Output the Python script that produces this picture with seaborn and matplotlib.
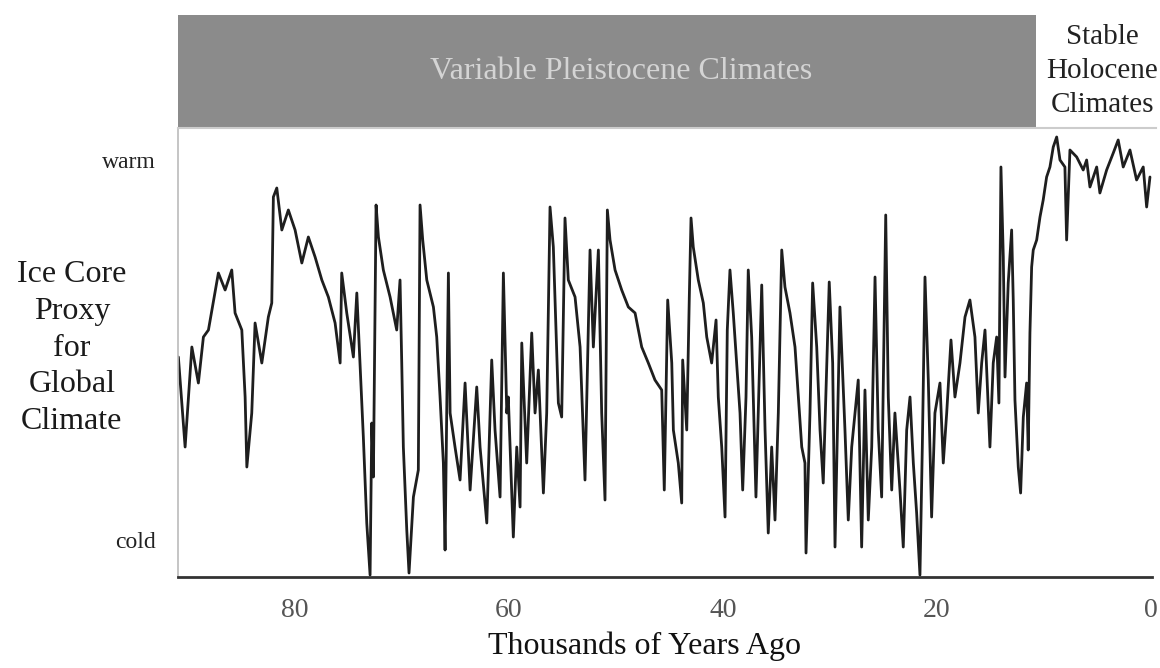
import matplotlib
matplotlib.use("Agg")
import matplotlib.pyplot as plt
import seaborn as sns
import pandas as pd

# ==========================================
# Data
# ==========================================

# thousands of years ago
kyr_80_75 = [90.91, 90.28, 89.65, 89.04, 88.57, 88.10, 87.17, 86.54, 85.92, 85.61,
             84.98, 84.67, 84.51, 84.05, 83.74, 83.11, 82.50, 82.18, 82.03, 81.71,
             81.24, 80.63, 80.00, 79.37, 78.76, 78.13, 77.50, 76.89, 76.26, 75.79, 75.64]
proxy_80_75 = [219, 129, 229, 193, 239, 246, 303, 286, 306, 263,
               246, 179, 109, 163, 253, 213, 259, 273, 379, 388,
               346, 366, 346, 313, 339, 319, 296, 279, 253, 213, 303]

kyr_75_60 = [75.17, 74.55, 74.23, 73.93, 73.62, 73.30, 72.99, 72.83, 72.68, 72.43,
             72.21, 71.75, 71.12, 70.50, 70.19, 70.03, 69.88, 69.56, 69.35, 68.94,
             68.48, 68.32, 68.07, 67.69, 67.07, 66.76, 66.45, 66.14, 65.98, 65.67,
             65.51, 65.05, 64.58, 64.11, 63.64, 63.02, 62.71, 62.08, 61.62, 61.31,
             60.84, 60.53, 60.21]
proxy_75_60 = [263, 219, 283, 213, 139, 53, 1, 153, 99, 371,
               339, 306, 279, 246, 296, 213, 129, 46, 3, 79,
               106, 371, 336, 296, 269, 239, 179, 113, 26, 303,
               163, 129, 96, 193, 86, 189, 129, 53, 216, 146,
               79, 303, 163]

kyr_60_45 = [60.07, 59.60, 59.28, 58.97, 58.81, 58.35, 57.88, 57.57, 57.26, 56.79,
             56.48, 56.17, 55.86, 55.39, 55.08, 54.77, 54.46, 53.83, 53.36, 52.90,
             52.43, 52.12, 51.65, 51.34, 51.03, 50.81, 50.56, 50.09, 49.47, 48.85,
             48.22, 47.60, 46.98, 46.36, 45.73, 45.49, 45.17, 44.79]
proxy_60_45 = [179, 39, 129, 69, 233, 113, 243, 163, 206, 83,
               163, 369, 329, 173, 159, 358, 296, 279, 229, 96,
               326, 229, 326, 163, 76, 366, 336, 306, 286, 269,
               263, 229, 213, 196, 186, 86, 276, 213]

kyr_45_29 = [44.64, 44.18, 43.86, 43.77, 43.39, 43.15, 42.99, 42.78, 42.31, 41.84,
             41.52, 41.06, 40.65, 40.44, 40.12, 39.81, 39.60, 39.35, 39.04, 38.72,
             38.41, 38.16, 37.85, 37.64, 37.32, 36.92, 36.70, 36.38, 36.07, 35.77,
             35.45, 35.14, 34.83, 34.51, 34.21, 33.74, 33.27, 32.96, 32.64, 32.34,
             32.24, 31.87, 31.62, 31.24, 30.93, 30.63, 30.07, 29.75, 29.53, 29.07]
proxy_45_29 = [146, 113, 73, 216, 146, 279, 358, 329, 296, 273,
               239, 213, 256, 179, 129, 59, 246, 306, 263, 213,
               163, 86, 179, 306, 239, 79, 163, 291, 146, 43,
               129, 56, 163, 326, 289, 263, 229, 179, 129, 113,
               23, 163, 293, 229, 146, 93, 294, 213, 29, 269]

kyr_29_0 = [28.60, 28.29, 27.97, 27.36, 27.04, 26.73, 26.42, 26.10, 25.79, 25.49,
            25.17, 24.79, 24.55, 24.23, 23.93, 23.46, 23.15, 22.83, 22.52, 22.21,
            21.90, 21.59, 21.37, 21.12, 20.81, 20.50, 20.19, 19.72, 19.41, 19.09,
            18.69, 18.32, 17.85, 17.38, 16.92, 16.45, 16.14, 15.82, 15.51, 15.05,
            14.74, 14.42, 14.21, 14.02, 13.80, 13.64, 13.34, 13.02, 12.87, 12.71,
            12.40, 12.18, 11.93, 11.62, 11.47, 11.31, 11.15, 11.00, 10.68, 10.37,
            10.07, 9.75, 9.44, 9.13, 8.81, 8.50, 8.04, 7.88, 7.57, 6.94,
            6.33, 6.01, 5.70, 5.07, 4.77, 4.14, 3.52, 3.06, 2.59, 1.96,
            1.34, 0.72, 0.40, 0.09]
proxy_29_0 = [146, 56, 129, 196, 29, 186, 56, 129, 299, 146,
              79, 361, 179, 86, 163, 86, 29, 146, 179, 113,
              63, 1, 129, 299, 196, 59, 163, 193, 113, 163,
              236, 179, 213, 259, 276, 239, 163, 213, 246, 129,
              213, 239, 173, 409, 319, 199, 293, 346, 276, 176,
              109, 83, 159, 193, 126, 243, 309, 326, 336, 359,
              376, 399, 409, 429, 439, 416, 409, 336, 426, 419,
              406, 416, 389, 409, 383, 406, 423, 436, 409, 426,
              396, 409, 369, 399]

x_ticks = [80, 60, 40, 20, 0]
y_ticks = [36, 416]
y_tick_labels = ["cold", "warm"]
holocene_start = 10.8

df = pd.DataFrame({
    "kyr": kyr_80_75 + kyr_75_60 + kyr_60_45 + kyr_45_29 + kyr_29_0,
    "proxy": proxy_80_75 + proxy_75_60 + proxy_60_45 + proxy_45_29 + proxy_29_0,
})

# ==========================================
# Plot
# ==========================================

sns.set_theme(style="white")
plt.rcParams["font.family"] = ["Liberation Serif", "DejaVu Serif"]

fig = plt.figure(figsize=(11.6, 6.68), dpi=100)

ax = fig.add_axes([0.1534, 0.1362, 0.8397, 0.6722])

sns.lineplot(
    data=df,
    x="kyr",
    y="proxy",
    estimator=None,
    color="#1e1e1e",
    linewidth=2.0,
    ax=ax
)

ax.set_xlim(90.95, -0.1)
ax.set_ylim(-1, 448)

ax.set_xticks(x_ticks)
ax.set_xticklabels([str(t) for t in x_ticks], fontsize=20, color="#555555")
ax.tick_params(axis="x", direction="out", length=5, width=1.2, color="#333333", pad=10)

ax.set_yticks(y_ticks)
ax.set_yticklabels(y_tick_labels, fontsize=17, color="#222222")
ax.tick_params(axis="y", length=0, pad=16)

ax.set_xlabel("")
ax.set_ylabel("")

for side in ["top", "right"]:
    ax.spines[side].set_visible(False)
ax.spines["left"].set_color("#bbbbbb")
ax.spines["left"].set_linewidth(1.2)
ax.spines["bottom"].set_color("#333333")
ax.spines["bottom"].set_linewidth(2)

fig.text(0.556, 0.032, "Thousands of Years Ago",
         ha="center", va="center", fontsize=23, color="#111111")

fig.text(0.062, 0.479, "Ice Core\nProxy\nfor\nGlobal\nClimate",
         ha="center", va="center", fontsize=23, color="#1a1a1a", linespacing=1.36)

# ==========================================
# Header band
# ==========================================

hdr = fig.add_axes([0.1534, 0.8084, 0.8431, 0.1692])
hdr.set_xlim(90.95, -0.4)
hdr.set_ylim(0, 1)
hdr.axvspan(90.95, holocene_start, color="#8b8b8b", lw=0)
hdr.text(49.6, 0.5, "Variable Pleistocene Climates",
         ha="center", va="center", fontsize=23, color="#d4d4d4")
hdr.text(holocene_start / 2 - 0.8, 0.5, "Stable\nHolocene\nClimates",
         ha="center", va="center", fontsize=21, color="#222222", linespacing=1.4)
hdr.set_xticks([])
hdr.set_yticks([])
for side in ["left", "right", "top"]:
    hdr.spines[side].set_visible(False)
hdr.spines["bottom"].set_color("#cccccc")
hdr.spines["bottom"].set_linewidth(1.5)

fig.savefig("out.png", dpi=100)
